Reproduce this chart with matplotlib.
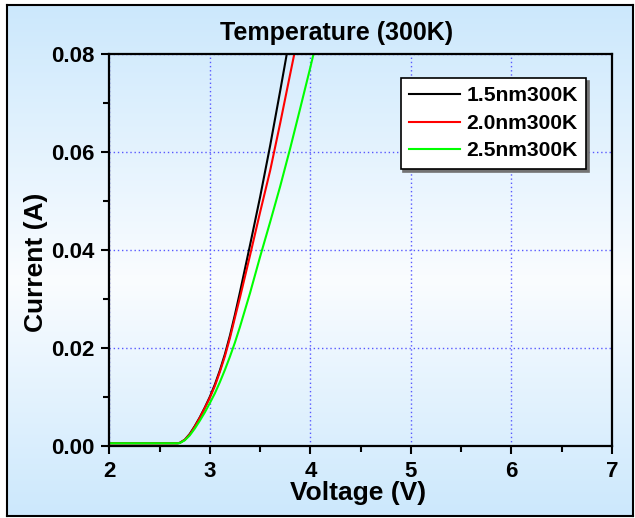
import matplotlib.pyplot as plt
import numpy as np
from matplotlib.ticker import MultipleLocator, FormatStrFormatter

plt.rcParams['font.family'] = ['Liberation Sans', 'DejaVu Sans']
plt.rcParams['font.weight'] = 'bold'

# I-V sweep: bias voltage (V) and current (A) for each well width
volt_a = [2.0, 2.68, 2.70, 2.75, 2.80, 2.85, 2.90, 2.95, 3.00, 3.05, 3.10,
          3.15, 3.20, 3.25, 3.30, 3.40, 3.50, 3.60, 3.70, 3.80]
amp_15nm = [0.0005, 0.0005, 0.00058, 0.0012, 0.0024, 0.0040, 0.0058, 0.0078,
            0.0100, 0.0125, 0.0154, 0.0187, 0.0225, 0.0268, 0.0314, 0.0410,
            0.0508, 0.0613, 0.0725, 0.0840]

volt_b = [2.0, 2.68, 2.70, 2.75, 2.80, 2.85, 2.90, 2.95, 3.00, 3.05, 3.10,
          3.15, 3.20, 3.25, 3.30, 3.40, 3.50, 3.60, 3.70, 3.80, 3.90]
amp_20nm = [0.0005, 0.0005, 0.00057, 0.0012, 0.0023, 0.0039, 0.0057, 0.0077,
            0.0098, 0.0122, 0.0151, 0.0183, 0.0220, 0.0262, 0.0303, 0.0389,
            0.0477, 0.0562, 0.0659, 0.0760, 0.0860]

volt_c = [2.0, 2.69, 2.70, 2.75, 2.80, 2.85, 2.90, 2.95, 3.00, 3.05, 3.10,
          3.15, 3.20, 3.25, 3.30, 3.40, 3.50, 3.60, 3.70, 3.80, 3.90, 4.00,
          4.10]
amp_25nm = [0.0005, 0.0005, 0.00053, 0.0011, 0.0021, 0.0035, 0.0051, 0.0068,
            0.0087, 0.0107, 0.0130, 0.0155, 0.0182, 0.0211, 0.0243, 0.0312,
            0.0386, 0.0457, 0.0530, 0.0608, 0.0690, 0.0773, 0.0860]

labels = ['1.5nm300K', '2.0nm300K', '2.5nm300K']
colors = ['black', '#FF0000', '#00FF00']

W, H = 635, 518
fig = plt.figure(figsize=(W / 100, H / 100), dpi=100, facecolor='white')

# framed panel with a soft vertical blue gradient
bg = fig.add_axes([7 / W, 2 / H, 626 / W, 511 / H], zorder=0)
rows = np.linspace(0, 1, 256)
edge = np.array([0.80, 0.91, 0.99])
light = np.array([0.98, 0.99, 1.0])
t = np.abs(rows - 0.54) / np.where(rows < 0.54, 0.54, 0.46)
grad = light + (edge - light) * t[:, None]
bg.imshow(grad[:, None, :], aspect='auto', extent=[0, 1, 0, 1])
bg.set_xticks([])
bg.set_yticks([])
for s in bg.spines.values():
    s.set_linewidth(1.5)
    s.set_color('black')

ax = fig.add_axes([109.3 / W, 1 - 445.7 / H, (612 - 109.3) / W, (445.7 - 54) / H],
                  zorder=1)
ax.set_facecolor('none')

series = [(volt_a, amp_15nm), (volt_b, amp_20nm), (volt_c, amp_25nm)]
for (v, i), lab, c in zip(series, labels, colors):
    ax.plot(v, i, color=c, lw=1.5, label=lab)

ax.set_xlim(2, 7)
ax.set_ylim(0, 0.08)
ax.xaxis.set_major_locator(MultipleLocator(1))
ax.xaxis.set_minor_locator(MultipleLocator(0.5))
ax.yaxis.set_major_locator(MultipleLocator(0.02))
ax.yaxis.set_minor_locator(MultipleLocator(0.01))
ax.yaxis.set_major_formatter(FormatStrFormatter('%.2f'))
ax.tick_params(which='major', direction='out', length=6, width=1.5,
               labelsize=16, pad=5)
ax.tick_params(which='minor', direction='out', length=4, width=1.5)
for s in ax.spines.values():
    s.set_linewidth(1.6)

ax.grid(which='major', color='#5858FF', linestyle=(0, (1, 2)), linewidth=1)

fig.text(337 / W, 1 - 40 / H, 'Temperature (300K)', ha='center',
         va='baseline', fontsize=18, fontweight='bold')
fig.text(357.7 / W, 1 - 500 / H, 'Voltage (V)', ha='center',
         va='baseline', fontsize=19, fontweight='bold')
fig.text(36 / W, 1 - 262 / H, 'Current (A)', ha='center', va='center',
         rotation=90, fontsize=19, fontweight='bold')

leg = ax.legend(loc='upper left', bbox_to_anchor=(400.7 / W, 1 - 78 / H),
                bbox_transform=fig.transFigure, borderaxespad=0,
                fontsize=15.2, handlelength=2.4, handletextpad=0.3,
                labelspacing=0.40, borderpad=0.40, fancybox=False,
                framealpha=1, edgecolor='black',
                shadow={'color': '0.45', 'alpha': 1})
leg.get_frame().set_linewidth(1.2)

fig.savefig('out.png', dpi=100)
